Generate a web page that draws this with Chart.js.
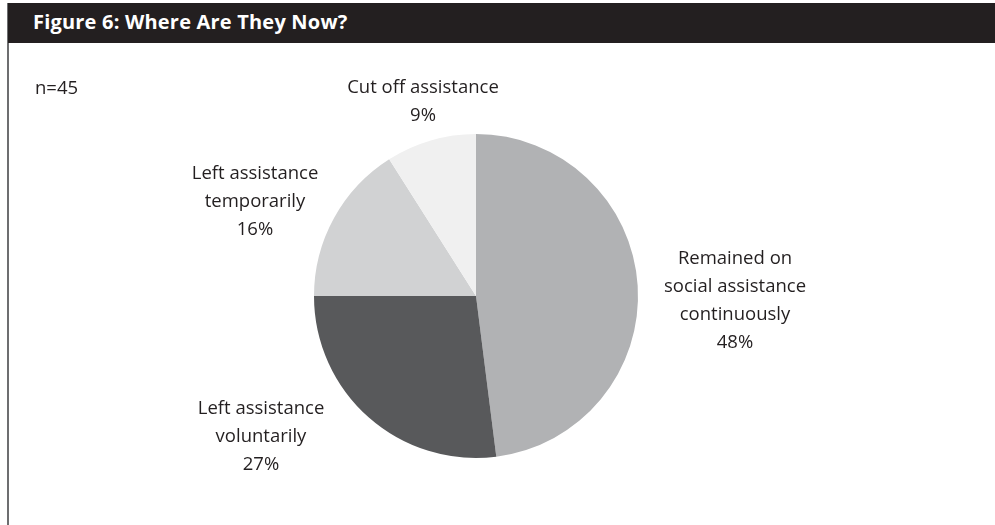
<!DOCTYPE html>
<html>
<head>
<meta charset="utf-8">
<title>Figure 6: Where Are They Now?</title>
<script src="https://cdn.jsdelivr.net/npm/chart.js@4"></script>
<style>
    html, body { margin: 0; padding: 0; background: #fff; }
    body { width: 995px; height: 525px; position: relative; overflow: hidden; font-family: 'Open Sans', Lato, sans-serif; }
    .frame { position: absolute; left: 7px; top: 3px; width: 990px; bottom: 0; border-left: 2px solid #6d6e70; }
    .header { position: absolute; left: 8px; top: 3px; width: 990px; height: 40px; background: #231f20; color: #fff; }
    .header h1 { margin: 0; position: absolute; left: 25px; top: 6px; font-size: 20px; font-weight: bold; line-height: 26px; letter-spacing: 0.2px; }
    .chart-wrap { position: absolute; left: 0; top: 0; width: 995px; height: 525px; }
</style>
</head>
<body>
<div class="frame"></div>
<div class="header"><h1>Figure 6: Where Are They Now?</h1></div>
<div class="chart-wrap"><canvas id="pieChart"></canvas></div>
<script>
// outcome groups, clockwise from 12 o'clock
const categories = ['Remained on social assistance continuously', 'Left assistance voluntarily', 'Left assistance temporarily', 'Cut off assistance'];
const shares = [48, 27, 16, 9];
const labelLines = [
    ['Remained on', 'social assistance', 'continuously'],
    ['Left assistance', 'voluntarily'],
    ['Left assistance', 'temporarily'],
    ['Cut off assistance']
];
const sampleNote = 'n=45';

const sliceColors = ['#b1b2b4', '#58595b', '#d1d2d3', '#f0f0f0'];
// label block centres, relative to the pie centre
const labelOffsets = [[259, 5], [-215, 141], [-221, -94], [-53, -194]];

const textColor = '#231f20';
const labelFont = "18.5px 'Open Sans', Lato, sans-serif";
const lineHeight = 28;

const sliceLabels = {
    id: 'sliceLabels',
    afterDraw(chart) {
        const ctx = chart.ctx;
        const arcs = chart.getDatasetMeta(0).data;
        ctx.save();
        ctx.fillStyle = textColor;
        ctx.font = labelFont;
        ctx.textAlign = 'center';
        ctx.textBaseline = 'middle';
        arcs.forEach((arc, i) => {
            const lines = labelLines[i].concat(shares[i] + '%');
            const cx = arc.x + labelOffsets[i][0];
            const cy = arc.y + labelOffsets[i][1];
            const top = cy - (lines.length - 1) * lineHeight / 2;
            lines.forEach((l, j) => ctx.fillText(l, cx, top + j * lineHeight));
        });
        // sample size note
        ctx.textAlign = 'left';
        ctx.fillText(sampleNote, 35, 89);
        ctx.restore();
    }
};

new Chart(document.getElementById('pieChart').getContext('2d'), {
    type: 'pie',
    data: {
        labels: categories,
        datasets: [{
            data: shares,
            backgroundColor: sliceColors,
            borderWidth: 0
        }]
    },
    options: {
        responsive: true,
        maintainAspectRatio: false,
        animation: false,
        events: [],
        layout: { padding: { left: 314, right: 357, top: 134, bottom: 67 } },
        plugins: {
            legend: { display: false },
            tooltip: { enabled: false }
        }
    },
    plugins: [sliceLabels]
});
</script>
</body>
</html>
